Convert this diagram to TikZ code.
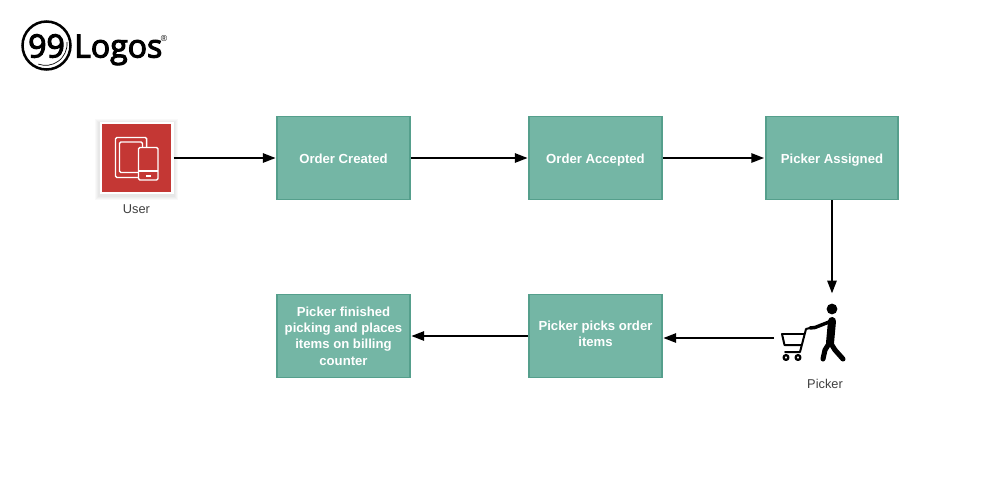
\documentclass[tikz,border=0pt]{standalone}
\usepackage{fontspec}
\setmainfont{Liberation Sans}
\newfontfamily\logofont[FakeBold=3.5]{Open Sans}
\usetikzlibrary{arrows.meta}
\definecolor{boxfill}{HTML}{74B6A5}
\definecolor{boxline}{HTML}{559F8C}
\definecolor{tilered}{HTML}{C43734}
% Line struts: the argument adds height above the first line, lowering centred text
\newcommand{\headstrut}[1]{\rule{0pt}{\dimexpr8.54pt+#1\relax}}
\newcommand{\footstrut}{\rule[-3.66pt]{0pt}{3.66pt}}
\tikzset{
  x=0.75pt,y=-0.75pt,
  flowbox/.style={draw=boxline,line width=1.4pt,fill=boxfill,minimum width=99.5pt,minimum height=62.2pt,
    align=center,text=white,font=\bfseries\fontsize{9.85}{12.2}\selectfont,inner sep=0pt},
  flow/.style={draw=black,line width=1.25pt,-{Triangle[length=9.5pt,width=7pt]},shorten >=0.5pt},
  iconline/.style={draw=white,line width=1.1pt,rounded corners=1pt},
  caption/.style={text=black!75,font=\fontsize{9.6}{12}\selectfont,inner sep=0pt},
  figure/.style={draw=black,line cap=round,line join=round},
  tileglow/.style={fill=black,fill opacity=0.022,draw=none},
}
\begin{document}
\begin{tikzpicture}
\useasboundingbox (0,0) rectangle (1000,500);
\fill[white] (0,0) rectangle (1000,500);

% Company mark
\draw[line width=1.9pt] (46.5,45.5) circle (24);
\draw[line width=0.5pt] (67,42) arc[start angle=-5,end angle=110,radius=21.5];
\node[inner sep=0pt,font=\logofont\fontsize{24}{26}\selectfont] (nines) at (46.5,46) {99};
\node[inner sep=0pt,anchor=base west,font=\logofont\fontsize{24}{26}\selectfont] (word) at (74,57.5) {Logos};
\node[inner sep=0pt,font=\fontsize{6.5}{7}\selectfont] (reg) at (164,39) {®};

% Process boxes
\node[flowbox] (created) at (343.5,158) {\headstrut{3pt}Order Created\footstrut};
\node[flowbox] (accepted) at (595.5,158) {\headstrut{3pt}Order Accepted\footstrut};
\node[flowbox] (assigned) at (832,158) {\headstrut{3pt}Picker Assigned\footstrut};
\node[flowbox] (picks) at (595.5,336) {\headstrut{-0.8pt}Picker picks order\\items\footstrut};
\node[flowbox] (finished) at (343.5,336) {\headstrut{2.2pt}Picker finished\\picking and places\\items on billing\\counter\footstrut};

% User tile: soft halo, white frame, red face
\foreach \g in {0,1,2,3}
  \fill[tileglow] (98-\g,122-\g) rectangle (175+\g,197+\g);
\node[draw=white,line width=2pt,fill=tilered,minimum width=53.5pt,minimum height=52.5pt,inner sep=0pt] (user) at (136.5,158) {};
\draw[iconline] (146.7,147) -- (146.7,137.5) -- (115.5,137.5) -- (115.5,177.5) -- (138,177.5);
\draw[iconline] (142.5,147) -- (142.5,142) -- (119.5,142) -- (119.5,172.5) -- (138,172.5);
\draw[iconline] (138.5,147.5) rectangle (158,180);
\draw[iconline] (138.5,171) -- (158,171);
\fill[white] (146,174.8) rectangle (151,176.6);
\node[caption] (userlabel) at (136.5,209) {User};

% Picker with trolley
\coordinate (pickertop) at (832,294);
\coordinate (pickerleft) at (774,338);
\begin{scope}[figure]
\fill (832,309) circle (5.4);
\draw[line width=6pt] (832,321) -- (830,343);
\draw[line width=3.8pt] (830,342) -- (825,350) -- (823,359);
\draw[line width=3.8pt] (830,342) -- (835,350) -- (843,359);
\draw[line width=2.6pt] (829,322) -- (815,327.5) -- (810,328);
\draw[line width=1.5pt] (810,328) -- (806,329) -- (800,352) -- (785,352);
\draw[line width=1.5pt] (782,334) -- (804,334);
\draw[line width=1.5pt] (782,334) -- (784.5,345) -- (801,345);
\draw[line width=1.7pt] (786,357.5) circle (2.4);
\draw[line width=1.7pt] (798,357.5) circle (2.4);
\end{scope}
\node[caption] (pickerlabel) at (825,384) {Picker};

% Connectors
\draw[flow] (user.east) -- (created.west);
\draw[flow] (created.east) -- (accepted.west);
\draw[flow] (accepted.east) -- (assigned.west);
\draw[flow] (assigned.south) -- (pickertop);
\draw[flow] (pickerleft) -- (picks.east |- pickerleft);
\draw[flow] (picks.west) -- (finished.east);
\end{tikzpicture}
\end{document}
